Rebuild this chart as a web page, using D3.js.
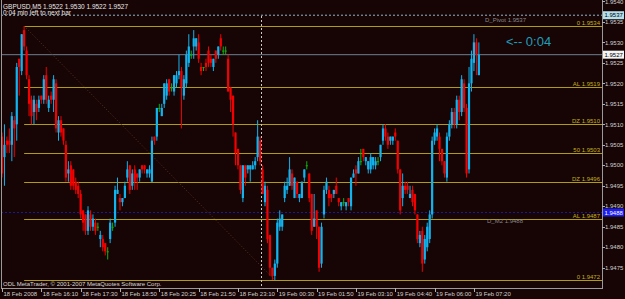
<!DOCTYPE html>
<html>
<head>
<meta charset="utf-8">
<script src="https://cdn.jsdelivr.net/npm/d3@7"></script>
<style>
  html, body { margin: 0; padding: 0; background: #170404; }
  svg text { font-family: "Liberation Sans", "DejaVu Sans", sans-serif; }
</style>
</head>
<body>
<div id="chart"></div>
<script>
// GBPUSD M5 bars
const open = [1.9507,1.9502,1.9506,1.9506,1.9505,1.9511,1.9510,1.9526,1.9523,1.9533,
 1.9528,1.9521,1.9516,1.9513,1.9515,1.9514,1.9517,1.9516,1.9522,1.9514,
 1.9517,1.9516,1.9520,1.9508,1.9511,1.9509,1.9505,1.9498,1.9500,1.9499,
 1.9496,1.9495,1.9493,1.9489,1.9488,1.9484,1.9488,1.9485,1.9486,1.9485,
 1.9482,1.9482,1.9481,1.9479,1.9482,1.9485,1.9486,1.9493,1.9492,1.9491,
 1.9492,1.9497,1.9500,1.9495,1.9499,1.9498,1.9497,1.9500,1.9500,1.9498,
 1.9498,1.9496,1.9507,1.9507,1.9514,1.9512,1.9515,1.9517,1.9521,1.9519,
 1.9518,1.9520,1.9522,1.9523,1.9517,1.9520,1.9525,1.9527,1.9529,1.9529,
 1.9530,1.9524,1.9524,1.9525,1.9528,1.9526,1.9524,1.9528,1.9527,1.9531,
 1.9528,1.9528,1.9526,1.9519,1.9517,1.9508,1.9504,1.9500,1.9492,1.9500,
 1.9499,1.9499,1.9499,1.9500,1.9502,1.9506,1.9499,1.9491,1.9494,1.9483,
 1.9475,1.9473,1.9476,1.9485,1.9485,1.9492,1.9494,1.9495,1.9498,1.9492,
 1.9496,1.9492,1.9492,1.9497,1.9500,1.9498,1.9493,1.9485,1.9489,1.9485,
 1.9476,1.9488,1.9494,1.9494,1.9493,1.9493,1.9495,1.9492,1.9490,1.9491,
 1.9490,1.9492,1.9490,1.9497,1.9499,1.9498,1.9501,1.9504,1.9501,1.9499,
 1.9499,1.9500,1.9500,1.9501,1.9502,1.9506,1.9509,1.9507,1.9506,1.9506,
 1.9508,1.9506,1.9499,1.9492,1.9495,1.9495,1.9492,1.9494,1.9493,1.9488,
 1.9481,1.9484,1.9477,1.9480,1.9482,1.9488,1.9506,1.9507,1.9507,1.9504,
 1.9501,1.9497,1.9507,1.9510,1.9513,1.9510,1.9516,1.9513,1.9520,1.9514,
 1.9499,1.9520,1.9525,1.9530,1.9522];
const high = [1.9508,1.9510,1.9507,1.9509,1.9513,1.9512,1.9525,1.9526,1.9532,1.9534,
 1.9529,1.9522,1.9517,1.9517,1.9516,1.9517,1.9517,1.9522,1.9524,1.9517,
 1.9518,1.9522,1.9521,1.9512,1.9512,1.9509,1.9506,1.9501,1.9501,1.9499,
 1.9497,1.9496,1.9494,1.9489,1.9488,1.9490,1.9489,1.9488,1.9487,1.9486,
 1.9484,1.9483,1.9481,1.9480,1.9487,1.9486,1.9495,1.9497,1.9493,1.9492,
 1.9496,1.9501,1.9500,1.9499,1.9500,1.9498,1.9499,1.9500,1.9500,1.9499,
 1.9500,1.9507,1.9507,1.9514,1.9515,1.9515,1.9520,1.9521,1.9521,1.9520,
 1.9522,1.9523,1.9527,1.9524,1.9522,1.9528,1.9532,1.9528,1.9533,1.9531,
 1.9532,1.9525,1.9524,1.9526,1.9529,1.9527,1.9526,1.9528,1.9529,1.9532,
 1.9529,1.9529,1.9527,1.9519,1.9517,1.9508,1.9504,1.9500,1.9500,1.9500,
 1.9500,1.9500,1.9501,1.9502,1.9511,1.9507,1.9500,1.9496,1.9495,1.9483,
 1.9475,1.9477,1.9487,1.9489,1.9488,1.9496,1.9497,1.9502,1.9499,1.9497,
 1.9496,1.9493,1.9496,1.9499,1.9501,1.9498,1.9493,1.9493,1.9489,1.9485,
 1.9486,1.9495,1.9497,1.9495,1.9493,1.9494,1.9497,1.9492,1.9491,1.9492,
 1.9491,1.9492,1.9497,1.9499,1.9500,1.9502,1.9504,1.9504,1.9502,1.9501,
 1.9503,1.9502,1.9502,1.9502,1.9505,1.9510,1.9510,1.9508,1.9507,1.9507,
 1.9509,1.9506,1.9499,1.9498,1.9496,1.9496,1.9495,1.9495,1.9493,1.9488,
 1.9484,1.9485,1.9483,1.9486,1.9489,1.9507,1.9509,1.9510,1.9508,1.9504,
 1.9501,1.9508,1.9511,1.9514,1.9514,1.9517,1.9517,1.9522,1.9521,1.9515,
 1.9524,1.9528,1.9532,1.9531,1.9530];
const low = [1.9497,1.9495,1.9503,1.9503,1.9501,1.9502,1.9506,1.9517,1.9522,1.9528,
 1.9521,1.9512,1.9510,1.9510,1.9511,1.9513,1.9515,1.9515,1.9515,1.9513,
 1.9515,1.9513,1.9508,1.9506,1.9507,1.9505,1.9496,1.9496,1.9494,1.9494,
 1.9493,1.9492,1.9487,1.9484,1.9483,1.9483,1.9484,1.9484,1.9483,1.9484,
 1.9480,1.9479,1.9478,1.9477,1.9481,1.9484,1.9485,1.9493,1.9489,1.9490,
 1.9492,1.9496,1.9493,1.9494,1.9494,1.9494,1.9496,1.9498,1.9498,1.9497,
 1.9497,1.9496,1.9505,1.9506,1.9513,1.9512,1.9514,1.9516,1.9517,1.9518,
 1.9517,1.9519,1.9521,1.9509,1.9516,1.9519,1.9524,1.9526,1.9526,1.9528,
 1.9525,1.9522,1.9523,1.9523,1.9524,1.9524,1.9523,1.9525,1.9526,1.9528,
 1.9527,1.9527,1.9518,1.9513,1.9507,1.9500,1.9499,1.9493,1.9491,1.9495,
 1.9498,1.9496,1.9499,1.9499,1.9501,1.9500,1.9493,1.9490,1.9481,1.9473,
 1.9472,1.9472,1.9475,1.9484,1.9484,1.9491,1.9493,1.9495,1.9494,1.9492,
 1.9492,1.9491,1.9492,1.9496,1.9499,1.9491,1.9483,1.9485,1.9482,1.9474,
 1.9475,1.9487,1.9493,1.9490,1.9491,1.9492,1.9493,1.9490,1.9489,1.9490,
 1.9489,1.9490,1.9489,1.9497,1.9495,1.9498,1.9500,1.9501,1.9500,1.9498,
 1.9498,1.9499,1.9499,1.9500,1.9501,1.9505,1.9506,1.9504,1.9505,1.9505,
 1.9506,1.9498,1.9488,1.9490,1.9493,1.9493,1.9492,1.9490,1.9488,1.9481,
 1.9480,1.9474,1.9476,1.9479,1.9481,1.9487,1.9505,1.9506,1.9501,1.9500,
 1.9497,1.9496,1.9506,1.9509,1.9509,1.9509,1.9511,1.9512,1.9513,1.9497,
 1.9498,1.9518,1.9523,1.9522,1.9522];
const close = [1.9498,1.9505,1.9505,1.9505,1.9512,1.9509,1.9524,1.9524,1.9532,1.9529,
 1.9522,1.9515,1.9512,1.9516,1.9513,1.9516,1.9516,1.9521,1.9516,1.9516,
 1.9516,1.9521,1.9509,1.9511,1.9508,1.9506,1.9497,1.9499,1.9495,1.9495,
 1.9494,1.9493,1.9488,1.9486,1.9484,1.9489,1.9485,1.9487,1.9484,1.9485,
 1.9483,1.9480,1.9479,1.9479,1.9486,1.9485,1.9494,1.9494,1.9491,1.9492,
 1.9495,1.9499,1.9494,1.9498,1.9496,1.9497,1.9499,1.9499,1.9499,1.9499,
 1.9499,1.9506,1.9506,1.9514,1.9514,1.9514,1.9520,1.9520,1.9518,1.9519,
 1.9522,1.9522,1.9523,1.9519,1.9521,1.9527,1.9529,1.9527,1.9531,1.9531,
 1.9526,1.9523,1.9524,1.9524,1.9525,1.9525,1.9526,1.9526,1.9529,1.9529,
 1.9528,1.9528,1.9518,1.9516,1.9510,1.9503,1.9500,1.9494,1.9500,1.9497,
 1.9500,1.9500,1.9500,1.9501,1.9507,1.9501,1.9493,1.9495,1.9482,1.9475,
 1.9473,1.9476,1.9486,1.9487,1.9488,1.9495,1.9495,1.9499,1.9495,1.9497,
 1.9493,1.9493,1.9496,1.9499,1.9500,1.9492,1.9484,1.9487,1.9485,1.9475,
 1.9485,1.9494,1.9496,1.9492,1.9492,1.9494,1.9493,1.9491,1.9491,1.9491,
 1.9491,1.9491,1.9497,1.9498,1.9498,1.9501,1.9501,1.9502,1.9502,1.9501,
 1.9502,1.9502,1.9501,1.9501,1.9505,1.9509,1.9507,1.9505,1.9507,1.9507,
 1.9507,1.9499,1.9489,1.9495,1.9494,1.9494,1.9493,1.9491,1.9489,1.9482,
 1.9483,1.9476,1.9482,1.9485,1.9488,1.9506,1.9508,1.9509,1.9504,1.9501,
 1.9498,1.9507,1.9510,1.9513,1.9510,1.9516,1.9513,1.9521,1.9514,1.9498,
 1.9520,1.9526,1.9530,1.9527,1.9527];

const priceTicks = [1.9540,1.9535,1.9530,1.9525,1.9520,1.9515,1.9510,1.9505,1.9500,1.9495,1.9490,1.9485,1.9480,1.9475];
const timeLabels = ["18 Feb 2008","18 Feb 16:10","18 Feb 17:30","18 Feb 18:50","18 Feb 20:25","18 Feb 21:50","18 Feb 23:10",
                    "19 Feb 00:30","19 Feb 01:50","19 Feb 03:10","19 Feb 04:40","19 Feb 06:00","19 Feb 07:20"];
const timeBars = [0,16,32,48,64,80,96,112,128,144,160,176,192];

const fibNames = ["0","AL","DZ","50","DZ","AL","0"];
const fibLevels = [1.9534,1.9519,1.9510,1.9503,1.9496,1.9487,1.9472];
const fibFrom = 9, fibTo = 111;   // bars of the high and the low
const daySplit = 106;

const pivot = 1.9537, m2 = 1.9488, bid = 1.9527;

const W = 625, H = 299;
const plotRight = 602, plotBottom = 288;

const svg = d3.select("#chart").append("svg")
              .attr("width", W).attr("height", H);

svg.append("rect").attr("width", W).attr("height", H).attr("fill", "#170404");

const x = d3.scaleLinear().domain([0, 194]).range([2, 2 + 194 * 2.458]);
const y = d3.scaleLinear().domain([1.9472, 1.9534]).range([280, 26]);

// horizontal lines behind the bars
svg.append("line")
   .attr("x1", 1).attr("x2", plotRight)
   .attr("y1", y(pivot) + 1.5).attr("y2", y(pivot) + 1.5)
   .attr("stroke", "#8fb8cc").attr("stroke-dasharray", "2,2");

svg.append("line")
   .attr("x1", 1).attr("x2", plotRight)
   .attr("y1", y(bid)).attr("y2", y(bid))
   .attr("stroke", "#6a7f92");

svg.append("line")
   .attr("x1", 1).attr("x2", plotRight)
   .attr("y1", Math.round(y(m2)) - 1.5).attr("y2", Math.round(y(m2)) - 1.5)
   .attr("stroke", "#1a1a9a").attr("stroke-dasharray", "2,2");

// fibo
const fib = svg.append("g");
fib.selectAll("line")
   .data(fibLevels)
   .enter()
   .append("line")
   .attr("x1", x(fibFrom)).attr("x2", plotRight)
   .attr("y1", d => Math.round(y(d)) + 0.5)
   .attr("y2", d => Math.round(y(d)) + 0.5)
   .attr("stroke", "#b09c10");

fib.selectAll("text")
   .data(fibLevels)
   .enter()
   .append("text")
   .attr("x", 600)
   .attr("y", d => Math.round(y(d)) - 1)
   .attr("text-anchor", "end")
   .attr("fill", "#c4b020")
   .style("font-size", "6px")
   .text((d, i) => fibNames[i] + "  " + d.toFixed(4));

svg.append("line")
   .attr("x1", x(fibFrom)).attr("y1", y(fibLevels[0]))
   .attr("x2", x(fibTo)).attr("y2", y(fibLevels[6]))
   .attr("stroke", "#5a3420").attr("stroke-dasharray", "1,2");

// day separator
svg.append("line")
   .attr("x1", Math.round((x(daySplit - 1) + x(daySplit)) / 2) + 0.5)
   .attr("x2", Math.round((x(daySplit - 1) + x(daySplit)) / 2) + 0.5)
   .attr("y1", 16).attr("y2", plotBottom)
   .attr("stroke", "#c8c8c8").attr("stroke-dasharray", "2,2");

// candles
const bars = d3.range(open.length);
const up = "#12b4f0", down = "#f40000", flat = "#10b010";
const colorOf = i => open[i] === close[i] ? flat : (close[i] > open[i] ? up : down);

svg.append("g").selectAll("line")
   .data(bars)
   .enter()
   .append("line")
   .attr("x1", i => x(i)).attr("x2", i => x(i))
   .attr("y1", i => y(high[i])).attr("y2", i => y(low[i]))
   .attr("stroke", colorOf).attr("stroke-width", 1);

svg.append("g").selectAll("rect")
   .data(bars)
   .enter()
   .append("rect")
   .attr("x", i => x(i) - 1.1)
   .attr("width", 2.2)
   .attr("y", i => y(Math.max(open[i], close[i])))
   .attr("height", i => Math.max(1, Math.abs(y(open[i]) - y(close[i]))))
   .attr("fill", colorOf);

// frame
svg.append("line").attr("x1", 1.5).attr("x2", 1.5).attr("y1", 0).attr("y2", plotBottom).attr("stroke", "#9a9a9a");
svg.append("line").attr("x1", plotRight + 0.5).attr("x2", plotRight + 0.5).attr("y1", 0).attr("y2", plotBottom + 1).attr("stroke", "#9a9a9a");
svg.append("line").attr("x1", 1).attr("x2", plotRight + 1).attr("y1", plotBottom + 0.5).attr("y2", plotBottom + 0.5).attr("stroke", "#9a9a9a");

// price axis
const py = svg.append("g");
py.selectAll("line")
  .data(priceTicks)
  .enter()
  .append("line")
  .attr("x1", plotRight).attr("x2", plotRight + 3)
  .attr("y1", d => Math.round(y(d)) + 0.5).attr("y2", d => Math.round(y(d)) + 0.5)
  .attr("stroke", "#b0b0b0");
py.selectAll("text")
  .data(priceTicks)
  .enter()
  .append("text")
  .attr("x", 605)
  .attr("y", d => y(d) + 2.2)
  .attr("fill", "#d0d0d0")
  .style("font-size", "6px")
  .text(d => d.toFixed(4));

// price boxes
const boxes = [
  { v: pivot, at: y(pivot) + 1.5, bg: "#b4e0ee", fg: "#000" },
  { v: bid, at: y(bid), bg: "#f4f4f4", fg: "#000" },
  { v: m2, at: Math.round(y(m2)) - 1.5, bg: "#1d1df0", fg: "#fff" }
];
boxes.forEach(b => {
  svg.append("rect").attr("x", 603).attr("y", b.at - 4).attr("width", 21).attr("height", 8).attr("fill", b.bg);
  svg.append("text").attr("x", 604.5).attr("y", b.at + 2.2).attr("fill", b.fg)
     .style("font-size", "6px").text(b.v.toFixed(4));
});

// time axis
const tx = svg.append("g");
tx.selectAll("line")
  .data(timeBars)
  .enter()
  .append("line")
  .attr("x1", d => Math.round(x(d)) + 0.5).attr("x2", d => Math.round(x(d)) + 0.5)
  .attr("y1", plotBottom).attr("y2", plotBottom + 4)
  .attr("stroke", "#b0b0b0");
tx.selectAll("text")
  .data(timeBars)
  .enter()
  .append("text")
  .attr("x", d => x(d) + 1.5)
  .attr("y", 296)
  .attr("fill", "#d0d0d0")
  .style("font-size", "6px")
  .text((d, i) => timeLabels[i]);

// texts
svg.append("text").attr("x", 3).attr("y", 8.5).attr("fill", "#e8e8e8").style("font-size", "6.5px")
   .text("GBPUSD,M5  1.9522 1.9530 1.9522 1.9527");
svg.append("text").attr("x", 3).attr("y", 14.5).attr("fill", "#e8e8e8").style("font-size", "6.5px")
   .text("0:04 min left to next bar");
svg.append("text").attr("x", 3).attr("y", 285.5).attr("fill", "#d8d8d8").style("font-size", "6px")
   .text("ODL MetaTrader, \u00a9 2001-2007 MetaQuotes Software Corp.");
svg.append("text").attr("x", 485).attr("y", 22).attr("fill", "#8a8a8a").style("font-size", "6px")
   .text("D_Pivot " + pivot.toFixed(4));
svg.append("text").attr("x", 487).attr("y", 223).attr("fill", "#8a8a8a").style("font-size", "6px")
   .text("D_M2 " + m2.toFixed(4));
svg.append("text").attr("x", 506).attr("y", 46).attr("fill", "#1e9ebc").style("font-size", "13px")
   .text("<-- 0:04");
</script>
</body>
</html>
